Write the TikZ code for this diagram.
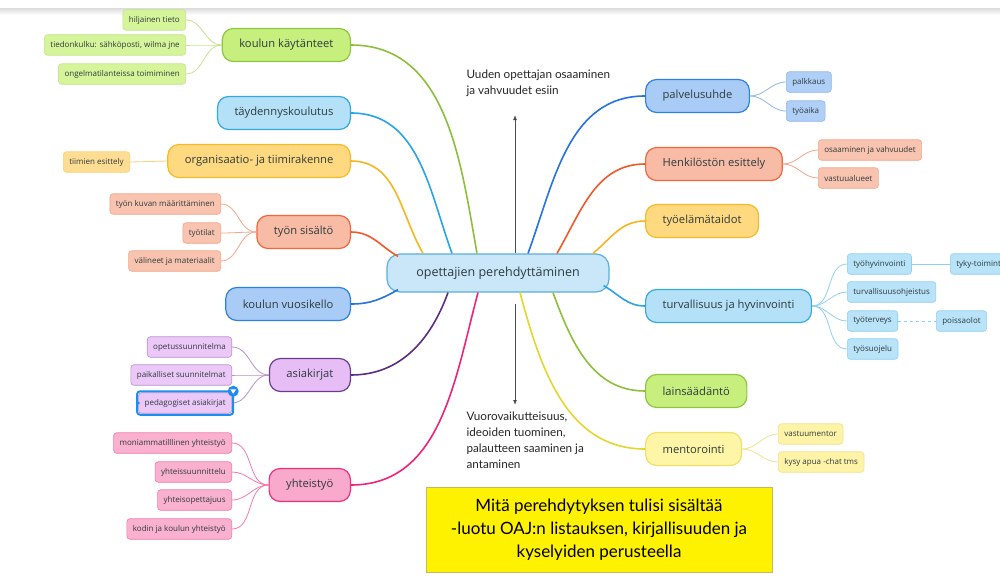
\documentclass[tikz,border=0pt]{standalone}
\usepackage{fontspec}
\setmainfont{Open Sans}
\newfontfamily\notefont{Lato}
\usepackage{tikz}
\usetikzlibrary{positioning, arrows.meta, fit, calc}
\definecolor{ink}{HTML}{2E3B3E}
\definecolor{hubline}{HTML}{5AAEDC}
\definecolor{hubfill}{HTML}{C9E7F8}
\definecolor{gr}{HTML}{8DC63F}
\definecolor{grlight}{HTML}{C6EF7E}
\definecolor{grleaf}{HTML}{D6F59A}
\definecolor{grtwig}{HTML}{C3E38E}
\definecolor{grline}{HTML}{8CBF3A}
\definecolor{cy}{HTML}{35A8E0}
\definecolor{cylight}{HTML}{B4E1F7}
\definecolor{cyleaf}{HTML}{B9E3F8}
\definecolor{cytwig}{HTML}{8FD0F0}
\definecolor{cyline}{HTML}{28A5E6}
\definecolor{or}{HTML}{F6B928}
\definecolor{orlight}{HTML}{FFD97F}
\definecolor{orleaf}{HTML}{FFDD93}
\definecolor{ortwig}{HTML}{FAD07A}
\definecolor{orline}{HTML}{F9B51F}
\definecolor{sa}{HTML}{F0673C}
\definecolor{salight}{HTML}{F8BBA6}
\definecolor{saleaf}{HTML}{F8C3AF}
\definecolor{satwig}{HTML}{F4A68D}
\definecolor{saline}{HTML}{F2592A}
\definecolor{bl}{HTML}{2F7FE0}
\definecolor{bllight}{HTML}{A9CCF7}
\definecolor{blleaf}{HTML}{AFCFF7}
\definecolor{bltwig}{HTML}{8DB6EC}
\definecolor{blline}{HTML}{2672DE}
\definecolor{pu}{HTML}{6B3C8E}
\definecolor{pulight}{HTML}{E7BDF6}
\definecolor{puleaf}{HTML}{EBC8F7}
\definecolor{putwig}{HTML}{B891C9}
\definecolor{puline}{HTML}{5B2C83}
\definecolor{pk}{HTML}{EE2F7B}
\definecolor{pklight}{HTML}{F9A9CB}
\definecolor{pkleaf}{HTML}{FAB0CF}
\definecolor{pktwig}{HTML}{F37AAA}
\definecolor{pkline}{HTML}{F0237A}
\definecolor{ye}{HTML}{EEE06A}
\definecolor{yelight}{HTML}{FFF5A6}
\definecolor{yeleaf}{HTML}{FFF3A8}
\definecolor{yetwig}{HTML}{EFE28C}
\definecolor{yeline}{HTML}{E4D62C}
\definecolor{selblue}{HTML}{1E8CF0}
\definecolor{boxline}{HTML}{C8B85A}
\tikzset{
  hub/.style    = {rectangle, rounded corners=13pt, draw=hubline, line width=1.2pt,
                   fill=hubfill, minimum width=222pt, minimum height=38pt,
                   text=ink, font=\fontsize{12.5}{14}\selectfont},
  topic/.style  = {rectangle, rounded corners=11pt, draw=#1, fill=#1light, line width=1.2pt,
                   minimum height=33pt, inner xsep=17pt, text=ink,
                   font=\fontsize{11.2}{13}\selectfont},
  leaf/.style   = {rectangle, rounded corners=3pt, draw=#1twig, fill=#1leaf, line width=0.6pt,
                   minimum height=20.5pt, inner xsep=6pt, text=ink,
                   font=\fontsize{8}{9}\selectfont},
  branch/.style = {draw=#1line, line width=1.6pt},
  twig/.style   = {draw=#1twig, line width=0.8pt},
  note/.style   = {anchor=north west, align=left, text=black!85,
                   font=\notefont\fontsize{11.7}{16}\selectfont},
  ar/.style     = {-{Latex[length=5pt,width=4pt]}, line width=0.8pt, draw=black!70},
}
\begin{document}
\begin{tikzpicture}[x=1pt, y=1pt]
  \useasboundingbox (0,0) rectangle (1000,-586);
  \clip (0,0) rectangle (1000,-586);
  \shade[top color=black!12, bottom color=white] (0,-9) rectangle (1000,-15);

  % centre
  \node[hub] (ctr) at (498,-273) {opettajien perehdyttäminen};

  % left topics
  \node[topic=gr, anchor=east] (kaytanteet)   at (351,-45)  {koulun käytänteet};
  \node[topic=cy, anchor=east] (taydennys)    at (351,-113) {täydennyskoulutus};
  \node[topic=or, anchor=east] (organisaatio) at (351,-161) {organisaatio- ja tiimirakenne};
  \node[topic=sa, anchor=east] (sisalto)      at (351,-232) {työn sisältö};
  \node[topic=bl, anchor=east] (vuosikello)   at (351,-304) {koulun vuosikello};
  \node[topic=pu, anchor=east] (asiakirjat)   at (351,-375) {asiakirjat};
  \node[topic=pk, anchor=east] (yhteistyo)    at (351,-485) {yhteistyö};

  % right topics
  \node[topic=bl, anchor=west] (palvelu)      at (645,-96)  {palvelusuhde};
  \node[topic=sa, anchor=west] (henkilosto)   at (645,-164) {Henkilöstön esittely};
  \node[topic=or, anchor=west] (tyoelama)     at (645,-221) {työelämätaidot};
  \node[topic=cy, anchor=west] (turva)        at (645,-306) {turvallisuus ja hyvinvointi};
  \node[topic=gr, anchor=west] (laki)         at (645,-391) {lainsäädäntö};
  \node[topic=ye, anchor=west] (mentor)       at (645,-449) {mentorointi};

  % branches
  \draw[branch=gr] (kaytanteet.east)   to[out=0, in=100] ([xshift=-21pt]ctr.north);
  \draw[branch=cy] (taydennys.east)    to[out=0, in=110] ([xshift=-46pt]ctr.north);
  \draw[branch=or] (organisaatio.east) to[out=0, in=120] ([xshift=-75pt]ctr.north);
  \draw[branch=sa] (sisalto.east)      to[out=0, in=150] ([xshift=-100pt, yshift=-3pt]ctr.north);
  \draw[branch=bl] (vuosikello.east)   to[out=0, in=210] ([xshift=-100pt, yshift=3pt]ctr.south);
  \draw[branch=pu] (asiakirjat.east)   to[out=0, in=250] ([xshift=-50pt]ctr.south);
  \draw[branch=pk] (yhteistyo.east)    to[out=0, in=255] ([xshift=-20pt]ctr.south);
  \draw[branch=bl] (palvelu.west)      to[out=180, in=70]  ([xshift=30pt]ctr.north);
  \draw[branch=sa] (henkilosto.west)   to[out=180, in=60]  ([xshift=59pt]ctr.north);
  \draw[branch=or] (tyoelama.west)     to[out=180, in=40]  ([xshift=95pt]ctr.north);
  \draw[branch=cy] (turva.west)        to[out=180, in=330] ([xshift=-6pt, yshift=7pt]ctr.south east);
  \draw[branch=gr] (laki.west)         to[out=180, in=290] ([xshift=55pt]ctr.south);
  \draw[branch=ye] (mentor.west)       to[out=180, in=285] ([xshift=22pt]ctr.south);

  % leaves, left side
  \node[leaf=gr, anchor=east] (hiljainen)  at (186,-20)  {hiljainen tieto};
  \node[leaf=gr, anchor=east] (tiedonkulku) at (186,-45) {tiedonkulku: sähköposti, wilma jne};
  \node[leaf=gr, anchor=east] (ongelma)    at (186,-74)  {ongelmatilanteissa toimiminen};
  \foreach \l in {hiljainen, tiedonkulku, ongelma}
     {\draw[twig=gr] (kaytanteet.west) to[out=180, in=0] (\l.east);}

  \node[leaf=or, anchor=east] (tiimit) at (130,-162) {tiimien esittely};
  \draw[twig=or] (organisaatio.west) -- (tiimit.east);

  \node[leaf=sa, anchor=east] (tyonkuva)  at (221,-204) {työn kuvan määrittäminen};
  \node[leaf=sa, anchor=east] (tyotilat)  at (221,-233) {työtilat};
  \node[leaf=sa, anchor=east] (valineet)  at (221,-261) {välineet ja materiaalit};
  \foreach \l in {tyonkuva, tyotilat, valineet}
     {\draw[twig=sa] (sisalto.west) to[out=180, in=0] (\l.east);}

  \node[leaf=pu, anchor=east] (ops)        at (232,-347) {opetussuunnitelma};
  \node[leaf=pu, anchor=east] (paikalliset) at (232,-375) {paikalliset suunnitelmat};
  \node[leaf=pu, anchor=east] (pedagogiset) at (232,-403) {pedagogiset asiakirjat};
  \foreach \l in {ops, paikalliset, pedagogiset}
     {\draw[twig=pu] (asiakirjat.west) to[out=180, in=0] (\l.east);}
  \node[draw=selblue, line width=2pt, rounded corners=3pt, inner sep=1.2pt, fit=(pedagogiset)] (selbox) {};
  \node[circle, fill=selblue, inner sep=0pt, minimum size=11pt] (selknob) at ([xshift=-1pt, yshift=-1pt]selbox.north east) {};
  \fill[white] ([xshift=-3pt, yshift=2pt]selknob.center) -- ([xshift=3pt, yshift=2pt]selknob.center)
       -- ([yshift=-2.5pt]selknob.center) -- cycle;
  \fill[selblue] ([yshift=3pt]selbox.west) -- ([xshift=4pt]selbox.west) -- ([yshift=-3pt]selbox.west) -- cycle;

  \node[leaf=pk, anchor=east] (moniamm)   at (232,-443) {moniammatilllinen yhteistyö};
  \node[leaf=pk, anchor=east] (suunnittelu) at (232,-472) {yhteissuunnittelu};
  \node[leaf=pk, anchor=east] (opettajuus) at (232,-500) {yhteisopettajuus};
  \node[leaf=pk, anchor=east] (kodin)     at (232,-529) {kodin ja koulun yhteistyö};
  \foreach \l in {moniamm, suunnittelu, opettajuus, kodin}
     {\draw[twig=pk] (yhteistyo.west) to[out=180, in=0] (\l.east);}

  % leaves, right side
  \node[leaf=bl, anchor=west] (palkkaus) at (786,-82)  {palkkaus};
  \node[leaf=bl, anchor=west] (tyoaika)  at (786,-111) {työaika};
  \foreach \l in {palkkaus, tyoaika}
     {\draw[twig=bl] (palvelu.east) to[out=0, in=180] (\l.west);}

  \node[leaf=sa, anchor=west] (osaaminen) at (818,-150) {osaaminen ja vahvuudet};
  \node[leaf=sa, anchor=west] (vastuu)    at (818,-178) {vastuualueet};
  \foreach \l in {osaaminen, vastuu}
     {\draw[twig=sa] (henkilosto.east) to[out=0, in=180] (\l.west);}

  \node[leaf=cy, anchor=west] (tyohyv)   at (847,-264) {työhyvinvointi};
  \node[leaf=cy, anchor=west] (ohjeistus) at (847,-292) {turvallisuusohjeistus};
  \node[leaf=cy, anchor=west] (terveys)  at (847,-321) {työterveys};
  \node[leaf=cy, anchor=west] (suojelu)  at (847,-349) {työsuojelu};
  \foreach \l in {tyohyv, ohjeistus, terveys, suojelu}
     {\draw[twig=cy] (turva.east) to[out=0, in=180] (\l.west);}
  \node[leaf=cy, anchor=west] (tyky)     at (950,-264) {tyky-toiminta};
  \node[leaf=cy, anchor=west] (poissa)   at (936,-321) {poissaolot};
  \draw[twig=cy] (tyohyv.east) -- (tyky.west);
  \draw[twig=cy, dashed] (terveys.east) -- (poissa.west);

  \node[leaf=ye, anchor=west] (vastuumentor) at (778,-434) {vastuumentor};
  \node[leaf=ye, anchor=west] (kysy)         at (778,-462) {kysy apua -chat tms};
  \foreach \l in {vastuumentor, kysy}
     {\draw[twig=ye] (mentor.east) to[out=0, in=180] (\l.west);}

  % arrows and notes
  \coordinate (uptip) at (515,-115);
  \coordinate (downtip) at (515,-405);
  \draw[ar] ([xshift=17pt]ctr.north) -- (uptip);
  \draw[ar] ([xshift=17pt, yshift=-11pt]ctr.south) -- (downtip);
  \node[note] (upnote) at (463,-66) {Uuden opettajan osaaminen\\ja vahvuudet esiin};
  \node[note] (downnote) at (463,-408) {Vuorovaikutteisuus,\\ideoiden tuominen,\\palautteen saaminen ja\\antaminen};

  \node[draw=boxline, fill=yellow, line width=0.8pt, minimum width=346pt, minimum height=85pt,
        align=center, font=\notefont\fontsize{17}{23}\selectfont] (summary) at (599,-529.5)
       {Mitä perehdytyksen tulisi sisältää\\-luotu OAJ:n listauksen, kirjallisuuden ja\\kyselyiden perusteella};

\end{tikzpicture}
\end{document}
